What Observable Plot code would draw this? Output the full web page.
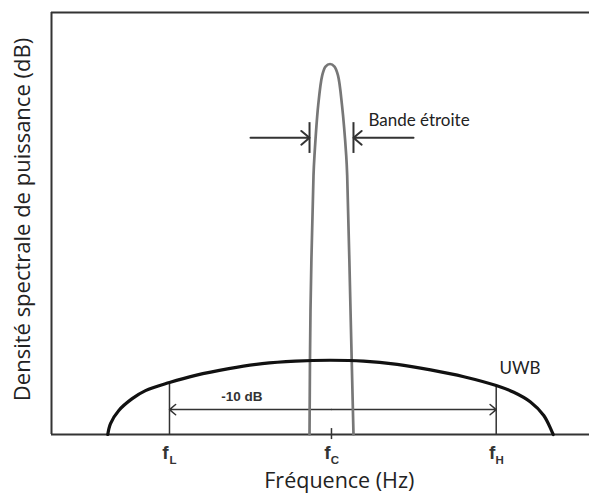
<!DOCTYPE html>
<html>
<head>
<meta charset="utf-8">
<script src="https://cdn.jsdelivr.net/npm/d3@7"></script>
<script src="https://cdn.jsdelivr.net/npm/@observablehq/plot@0.6"></script>
<style>
  html, body { margin: 0; padding: 0; background: #fff; }
</style>
</head>
<body>
<div id="chart"></div>
<script>
// Narrowband spectrum (gray) — frequency (arbitrary 0–100), PSD (arbitrary 0–100)
const narrowX = [47.96, 48.14, 48.70, 48.88, 49.57, 50.32, 50.93, 51.77, 52.60, 53.25, 54.00, 54.78, 54.96, 55.58, 56.13];
const narrowY = [0, 29.4, 61.4, 66.1, 78.0, 85.1, 87.2, 87.8, 87.2, 85.1, 78.0, 66.1, 61.4, 29.4, 0];

// UWB spectrum (black)
const uwbX = [10.46, 10.97, 12.51, 15.0, 17.47, 21.93, 26.77, 32.96, 39.16, 45.35, 51.86, 57.99, 64.26, 70.45, 76.64, 82.66, 85.93, 89.03, 91.5, 93.25];
const uwbY = [0, 2.6, 5.7, 8.5, 10.4, 12.3, 14.0, 15.6, 16.8, 17.4, 17.6, 17.4, 16.6, 15.3, 13.7, 11.6, 10.0, 7.7, 4.5, 0];

// Frequency markers f_L, f_C, f_H
const markerSub = ["L", "C", "H"];
const markerX = [21.93, 52.04, 82.66];
const markerTop = [12.3, null, 11.6];

// -10 dB bandwidth level
const level10dB = 5.9;
const level10dBLabel = "-10 dB";
const level10dBLabelPos = [35.4, 8.9];

// Narrow-band width markers
const nbEdges = [47.96, 56.13];
const nbArrowY = 70.3;
const nbBarY = [66.6, 73.9];
const nbArrowStart = [36.99, 67.29];
const nbLabel = "Bande étroite";
const nbLabelPos = [58.9, 74.3];

const uwbLabel = "UWB";
const uwbLabelPos = [83.27, 15.6];

const xLabel = "Fréquence (Hz)";
const xLabelPos = [53.5, -11.0];
const yLabel = "Densité spectrale de puissance (dB)";

const narrow = narrowX.map((x, i) => ({x, y: narrowY[i]}));
const uwb = uwbX.map((x, i) => ({x, y: uwbY[i]}));
const markers = markerSub.map((s, i) => ({s, x: markerX[i], top: markerTop[i]}));
const vlines = markers.filter(d => d.top != null);

const labelFont = "Lato, 'Open Sans', sans-serif";
const titleFont = "'Open Sans', Lato, sans-serif";

const chart = Plot.plot({
  width: 589,
  height: 493,
  marginLeft: 51,
  marginRight: 0,
  marginTop: 12,
  marginBottom: 59,
  x: {domain: [0, 100], axis: null},
  y: {domain: [0, 100], axis: null},
  style: {background: "#fff", fontFamily: labelFont, overflow: "visible"},
  marks: [
    // frame
    Plot.ruleY([100], {x1: 0, x2: 100, stroke: "#333", strokeWidth: 2}),
    Plot.ruleX([0], {y1: 0, y2: 100, stroke: "#333", strokeWidth: 2}),
    Plot.ruleY([0], {x1: 0, x2: 100, stroke: "#333", strokeWidth: 2}),
    // f_C tick
    Plot.ruleX([markerX[1]], {y1: -1.2, y2: 1.4, stroke: "#333", strokeWidth: 1.5}),
    // f_L, f_H verticals
    Plot.ruleX(vlines, {x: "x", y1: 0, y2: "top", stroke: "#333", strokeWidth: 1.5}),
    // -10 dB double arrow
    Plot.arrow([markerX[0], markerX[2]], {
      x1: markerX[1], y1: level10dB, x2: d => d, y2: level10dB,
      stroke: "#333", strokeWidth: 1.5, headLength: 8, headAngle: 80
    }),
    Plot.text([level10dBLabel], {
      x: level10dBLabelPos[0], y: level10dBLabelPos[1],
      fontFamily: "'Liberation Sans', Arial, sans-serif", fontWeight: "bold", fontSize: 13.5, fill: "#333"
    }),
    // narrowband
    Plot.line(narrow, {x: "x", y: "y", curve: "catmull-rom", stroke: "#777", strokeWidth: 2.7}),
    // narrowband width markers
    Plot.ruleX(nbEdges, {y1: nbBarY[0], y2: nbBarY[1], stroke: "#333", strokeWidth: 2}),
    Plot.arrow([0, 1], {
      x1: i => nbArrowStart[i], y1: nbArrowY, x2: i => nbEdges[i], y2: nbArrowY,
      stroke: "#333", strokeWidth: 2, headLength: 8, headAngle: 80
    }),
    Plot.text([nbLabel], {
      x: nbLabelPos[0], y: nbLabelPos[1], textAnchor: "start",
      fontSize: 17, fill: "#222"
    }),
    // UWB spectrum
    Plot.line(uwb, {x: "x", y: "y", curve: "catmull-rom", stroke: "#111", strokeWidth: 3.2}),
    Plot.text([uwbLabel], {
      x: uwbLabelPos[0], y: uwbLabelPos[1], textAnchor: "start",
      fontSize: 17, fill: "#222"
    }),
    // frequency labels f + subscript
    Plot.text(markers, {
      x: "x", y: 0, text: () => "f", dx: -4, dy: 18.5,
      fontFamily: "'Liberation Sans', Arial, sans-serif", fontWeight: "bold", fontSize: 19, fill: "#333"
    }),
    Plot.text(markers, {
      x: "x", y: 0, text: "s", dx: 3.5, dy: 26,
      fontFamily: "'Liberation Sans', Arial, sans-serif", fontWeight: "bold", fontSize: 11.5, fill: "#333"
    }),
    // axis titles
    Plot.text([xLabel], {
      x: xLabelPos[0], y: xLabelPos[1], fontFamily: titleFont, fontSize: 21.5, fill: "#222"
    }),
    Plot.text([yLabel], {
      frameAnchor: "left", textAnchor: "middle", dx: -29, dy: -4, rotate: -90,
      fontFamily: titleFont, fontSize: 22, fill: "#222"
    })
  ]
});

document.getElementById("chart").appendChild(chart);
</script>
</body>
</html>
